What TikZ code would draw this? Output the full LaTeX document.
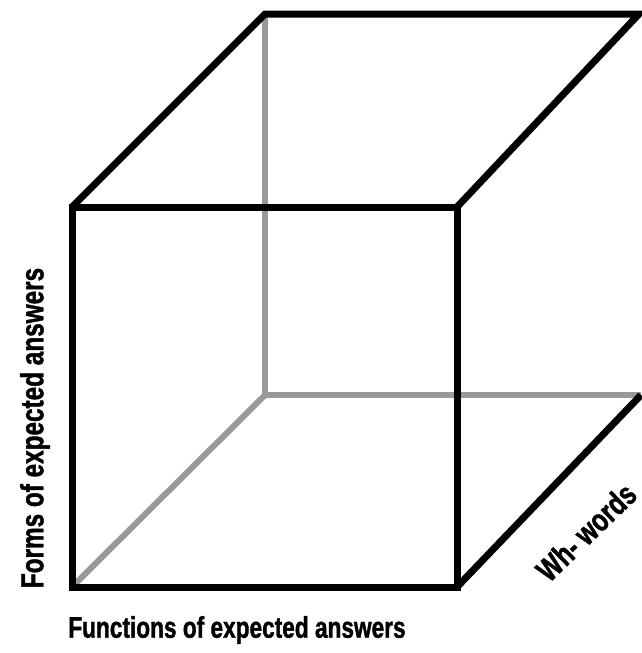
\documentclass[tikz,border=0pt]{standalone}
\usepackage{fontspec}
\newfontfamily\lblfont{Liberation Sans}[BoldFont={* Bold},FakeStretch=0.76,BoldFeatures={FakeStretch=0.76,FakeBold=1.3}]
\begin{document}
\begin{tikzpicture}[x=1pt,y=-1pt,
  edge/.style={line width=7pt,line join=miter,black},
  hidden/.style={line width=6pt,color=black!40},
  lbl/.style={inner sep=0pt}]
\useasboundingbox (0,0) rectangle (641,653);
% front face
\coordinate (fa) at (72,207);
\coordinate (fb) at (457,207);
\coordinate (fc) at (457,587);
\coordinate (fd) at (72,587);
% back face
\coordinate (ba) at (265,14);
\coordinate (bb) at (639,14);
\coordinate (bc) at (641,395);
\coordinate (bd) at (265,395);
% hidden edges
\draw[hidden] (ba) -- (bd) -- (bc);
\draw[hidden] (bd) -- (fd);
% visible edges
\draw[edge] (fa) -- (fb) -- (fc) -- (fd) -- cycle;
\draw[edge] (fa) -- (ba) -- (bb) -- (fb);
\draw[edge] (bc) -- (fc);
% labels
\node[lbl,rotate=90,font=\lblfont\bfseries\fontsize{32}{35}\selectfont] (forms) at (35,428) {Forms of expected answers};
\node[lbl,font=\lblfont\bfseries\fontsize{29.8}{33}\selectfont] (func) at (237,630) {Functions of expected answers};
\node[lbl,rotate=44,font=\lblfont\bfseries\fontsize{32}{35}\selectfont] (wh) at (586,532) {Wh- words};
\end{tikzpicture}
\end{document}
